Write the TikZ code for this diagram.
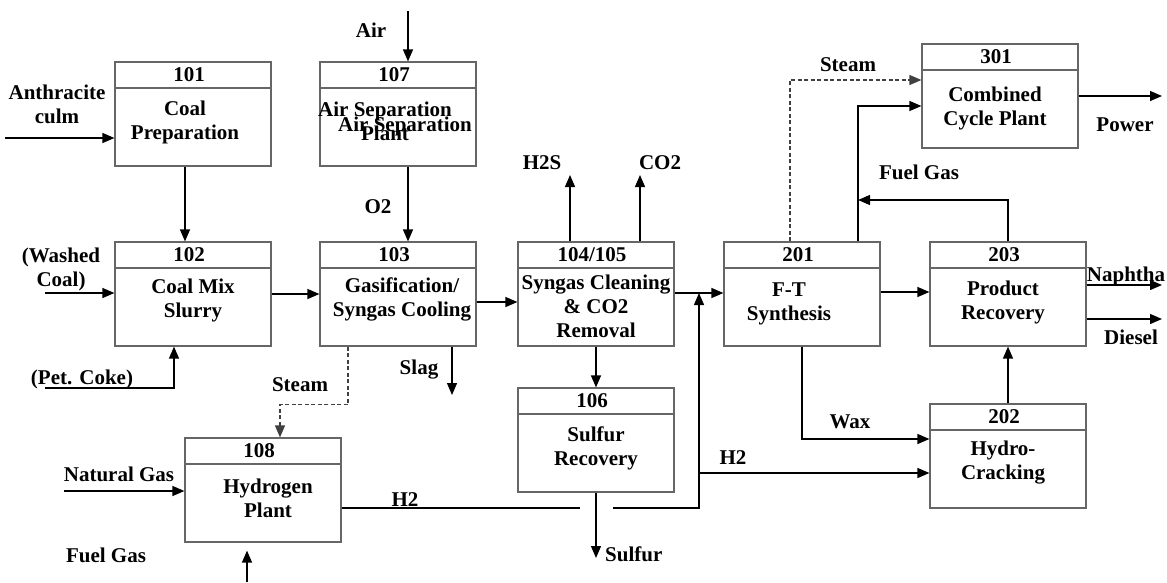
\documentclass[tikz,border=0pt]{standalone}
\usepackage{fontspec}
\setmainfont{Liberation Serif}
\usetikzlibrary{arrows.meta}

\begin{document}
\begin{tikzpicture}[x=1pt,y=-1pt,
    font=\bfseries\fontsize{21}{24}\selectfont,
    unit/.style={draw=black!60,line width=1.2pt,minimum width=156pt,minimum height=104pt,inner sep=0pt,
        path picture={\draw[black!60,line width=1.2pt] ([yshift=-26pt]path picture bounding box.north west)
            -- ([yshift=-26pt]path picture bounding box.north east);}},
    every label/.style={inner sep=0pt},
    unitnum/.style={anchor=center,xshift=-4pt,yshift=-13pt},
    unittitle/.style={anchor=north,yshift=-39pt,align=center},
    txt/.style={inner sep=0pt,anchor=north,align=center},
    flow/.style={line width=1.3pt,-{Triangle[length=12pt,width=10pt]}},
    plain/.style={line width=1.3pt},
    steamflow/.style={flow,draw=black!75,dash pattern=on 4pt off 2.5pt}]
    \useasboundingbox (0,0) rectangle (1167,582);

    % process units
    \node[unit,label={[unitnum]above:101},label={[unittitle,xshift=-8pt]above:Coal\\Preparation}] (u101) at (193,114) {};
    \node[unit,label={[unitnum]above:107},label={[unittitle,xshift=-13pt,yshift=-1pt]above:Air Separation\\Plant},
        label={[unittitle,xshift=7pt,yshift=-16pt]above:Air Separation}] (u107) at (398,114) {};
    \node[unit,label={[unitnum]above:102},label={[unittitle,yshift=2pt]above:Coal Mix\\Slurry}] (u102) at (193,294) {};
    \node[unit,label={[unitnum]above:103},label={[unittitle,xshift=4pt,yshift=3pt]above:Gasification/\\Syngas Cooling}] (u103) at (398,294) {};
    \node[unit,label={[unitnum]above:104/105},label={[unittitle,yshift=6pt]above:Syngas Cleaning\\\& CO2\\Removal}] (u104) at (596,294) {};
    \node[unit,label={[unitnum]above:106},label={[unittitle]above:Sulfur\\Recovery}] (u106) at (596,440) {};
    \node[unit,label={[unitnum]above:108},label={[unittitle,xshift=5pt,yshift=-2pt]above:Hydrogen\\Plant}] (u108) at (263,490) {};
    \node[unit,label={[unitnum]above:201},label={[unittitle,xshift=-13pt,yshift=-2pt]above:F-T\\Synthesis}] (u201) at (802,294) {};
    \node[unit,label={[unitnum]above:202},label={[unittitle,xshift=-5pt,yshift=2pt]above:Hydro-\\Cracking}] (u202) at (1008,456) {};
    \node[unit,label={[unitnum]above:203},label={[unittitle,xshift=-5pt]above:Product\\Recovery}] (u203) at (1008,294) {};
    \node[unit,label={[unitnum]above:301},label={[unittitle,xshift=-5pt,yshift=-4pt]above:Combined\\Cycle Plant}] (u301) at (1000,96) {};

    % stream names
    \node[txt] (tAir) at (371,23) {Air};
    \node[txt] (tCulm) at (57,85) {Anthracite\\culm};
    \node[txt] (tO2) at (378,199) {O2};
    \node[txt] (tWashed) at (61,248) {(Washed\\Coal)};
    \node[txt] (tPet) at (82,370) {(Pet. Coke)};
    \node[txt] (tSteamA) at (300,377) {Steam};
    \node[txt] (tSlag) at (419,360) {Slag};
    \node[txt] (tH2S) at (542,155) {H2S};
    \node[txt] (tCO2) at (660,155) {CO2};
    \node[txt] (tH2A) at (405,492) {H2};
    \node[txt] (tH2B) at (733,450) {H2};
    \node[txt,anchor=north west] (tSulfur) at (605,547) {Sulfur};
    \node[txt] (tWax) at (850,415) {Wax};
    \node[txt] (tSteamB) at (848,57) {Steam};
    \node[txt] (tFuelA) at (919,165) {Fuel Gas};
    \node[txt] (tPower) at (1125,118) {Power};
    \node[txt] (tNaph) at (1126,267) {Naphtha};
    \node[txt] (tDiesel) at (1131,330) {Diesel};
    \node[txt] (tNG) at (119,467) {Natural Gas};
    \node[txt] (tFuelB) at (106,548) {Fuel Gas};

    % free ends
    \coordinate (inCulm) at (5,138);
    \coordinate (inAir) at (408,11);
    \coordinate (inWashed) at (45,293);
    \coordinate (inPet) at (45,388);
    \coordinate (inNG) at (64,491);
    \coordinate (inFG) at (247,582);
    \coordinate (outSlag) at (452,395);
    \coordinate (outH2S) at (570,175);
    \coordinate (outCO2) at (640,175);
    \coordinate (outSulfur) at (596,558);
    \coordinate (outPower) at (1162,96);
    \coordinate (outNaph) at (1162,285);
    \coordinate (outDiesel) at (1162,319);
    \coordinate (h2gapL) at (580,508);
    \coordinate (h2gapR) at (613,508);
    \coordinate (h2join) at (699,293);
    \coordinate (h2split) at (699,473);
    \coordinate (fgjoin) at (858,200);

    % streams
    \draw[flow] (inCulm) -- (inCulm -| u101.west);
    \draw[flow] ([xshift=-8pt]u101.south) -- ([xshift=-8pt]u102.north);
    \draw[flow] (inAir) -- (inAir |- u107.north);
    \draw[flow] ([xshift=10pt]u107.south) -- ([xshift=10pt]u103.north);
    \draw[flow] (inWashed) -- (inWashed -| u102.west);
    \draw[flow] (u102.east) -- (u103.west);
    \draw[flow] (inPet) -| ([xshift=-19pt]u102.south);
    \draw[flow] ([yshift=-8pt]u103.east) -- ([yshift=-8pt]u104.west);
    \draw[flow] ([xshift=54pt]u103.south) -- (outSlag);
    \draw[steamflow] ([xshift=-50pt]u103.south) -- ++(0,58) -| ([xshift=17pt]u108.north);
    \draw[flow] ([xshift=-26pt]u104.north) -- (outH2S);
    \draw[flow] ([xshift=44pt]u104.north) -- (outCO2);
    \draw[flow] ([yshift=1pt]u104.east) -- ([yshift=1pt]u201.west);
    \draw[flow] (u104.south) -- (u106.north);
    \draw[flow] (u106.south) -- (outSulfur);
    \draw[plain] ([yshift=-18pt]u108.east) -- (h2gapL);
    \draw[flow] (h2gapR) -| (h2join);
    \draw[flow] (h2split) -- (h2split -| u202.west);
    \draw[flow] (inNG) -- (inNG -| u108.west);
    \draw[flow] (inFG) -- ([xshift=-16pt,yshift=-8pt]u108.south);
    \draw[flow] ([yshift=2pt]u201.east) -- ([yshift=2pt]u203.west);
    \draw[flow] (u201.south) |- ([yshift=17pt]u202.west);
    \draw[steamflow] ([xshift=-12pt]u201.north) |- ([yshift=16pt]u301.west);
    \draw[flow] ([xshift=56pt]u201.north) |- ([yshift=-10pt]u301.west);
    \draw[flow] (u203.north) |- (fgjoin);
    \draw[flow] (u202.north) -- (u203.south);
    \draw[flow] (u301.east) -- (outPower);
    \draw[flow] ([yshift=9pt]u203.east) -- (outNaph);
    \draw[flow] ([yshift=-25pt]u203.east) -- (outDiesel);
\end{tikzpicture}
\end{document}
